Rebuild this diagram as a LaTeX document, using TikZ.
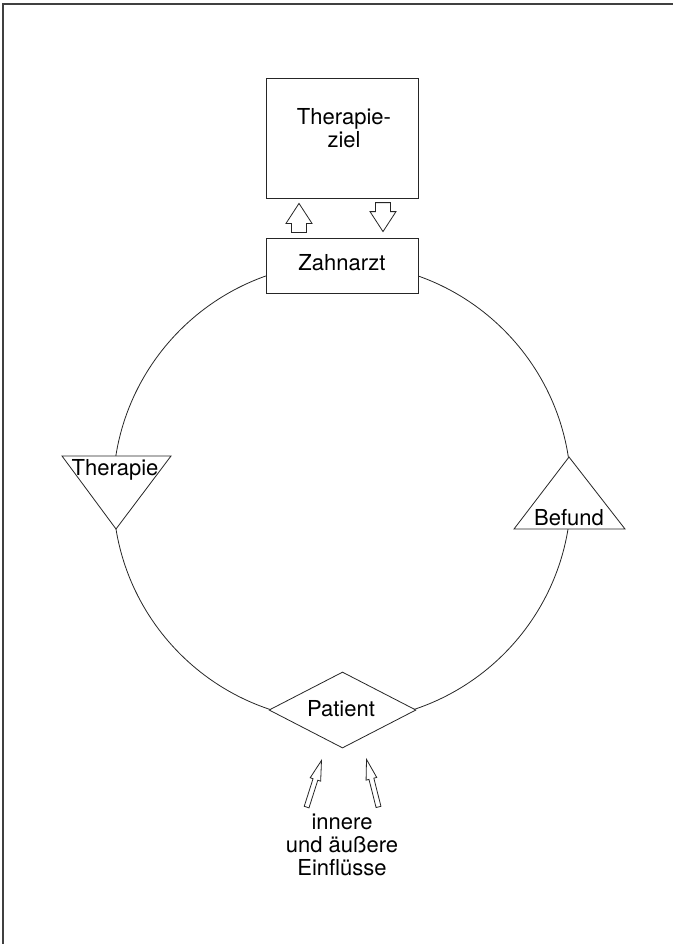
\documentclass[tikz,border=0pt]{standalone}
\usepackage{fontspec}
\setmainfont{TeX Gyre Heros}
\usetikzlibrary{shapes.geometric,calc}
\tikzset{
  thinarr/.pic={\draw[line width=0.8pt, draw=black!85, fill=white]
    (0,0) -- (-5.5pt,-20pt) -- (-2.5pt,-20pt) -- (-2.5pt,-49pt) -- (2.5pt,-49pt)
    -- (2.5pt,-20pt) -- (5.5pt,-20pt) -- cycle;},
  blockarr/.pic={\draw[line width=0.8pt, draw=black!85, fill=white]
    (0,0) -- (-13pt,-20pt) -- (-7.5pt,-20pt) -- (-7.5pt,-29pt) -- (7.5pt,-29pt)
    -- (7.5pt,-20pt) -- (13pt,-20pt) -- cycle;}
}
\begin{document}
\begin{tikzpicture}[x=1pt,y=-1pt,
  ln/.style={line width=0.8pt, draw=black!85},
  box/.style={ln, fill=white, rectangle, inner sep=0pt},
  lbl/.style={font=\fontsize{22}{23}\selectfont, inner sep=0pt, text=black}]
\useasboundingbox (0,0) rectangle (673,944);
% frame
\draw[line width=1.4pt, black!75] (3,944) -- (3,4) -- (673,4);
% circle
\coordinate (c) at (342,492);
\draw[ln] (c) circle[radius=229pt];
% boxes
\node[box, minimum width=152pt, minimum height=120pt] (ziel) at (342,138) {};
\node[lbl, align=center, anchor=base] (ziellbl) at (344,148) {Therapie-\\ziel};
\node[box, minimum width=152pt, minimum height=55pt] (zahn) at (342,265.5) {};
\node[lbl, anchor=base] (zahnlbl) at (342,270) {Zahnarzt};
% arrows between boxes
\pic at ($(ziel.south)+(-43,5)$) {blockarr};
\pic[rotate=180] at ($(zahn.north)+(41,-6)$) {blockarr};
% Therapie triangle
\coordinate (tl) at (62,456);
\coordinate (tr) at (171,456);
\coordinate (tt) at (116,529);
\draw[ln, fill=white] (tl) -- (tr) -- (tt) -- cycle;
\node[lbl, anchor=base] (ther) at (115,475) {Therapie};
% Befund triangle
\coordinate (ba) at (569,457);
\coordinate (bl) at (514,529);
\coordinate (br) at (625,529);
\draw[ln, fill=white] (ba) -- (bl) -- (br) -- cycle;
\node[lbl, anchor=base] (bef) at (569,525) {Befund};
% Patient diamond
\node[diamond, ln, fill=white, minimum width=147pt, minimum height=76pt, aspect=1.93, inner sep=0pt] (pat) at (342.5,710) {};
\node[lbl, anchor=base] (patlbl) at (341,716) {Patient};
% influences
\node[lbl, align=center, anchor=base] (einf) at (342,875) {innere\\und äußere\\Einflüsse};
\pic[rotate=-17.7] at ($(pat.south)+(-21,12)$) {thinarr};
\pic[rotate=14.2] at ($(pat.south)+(24,11)$) {thinarr};
\end{tikzpicture}
\end{document}
